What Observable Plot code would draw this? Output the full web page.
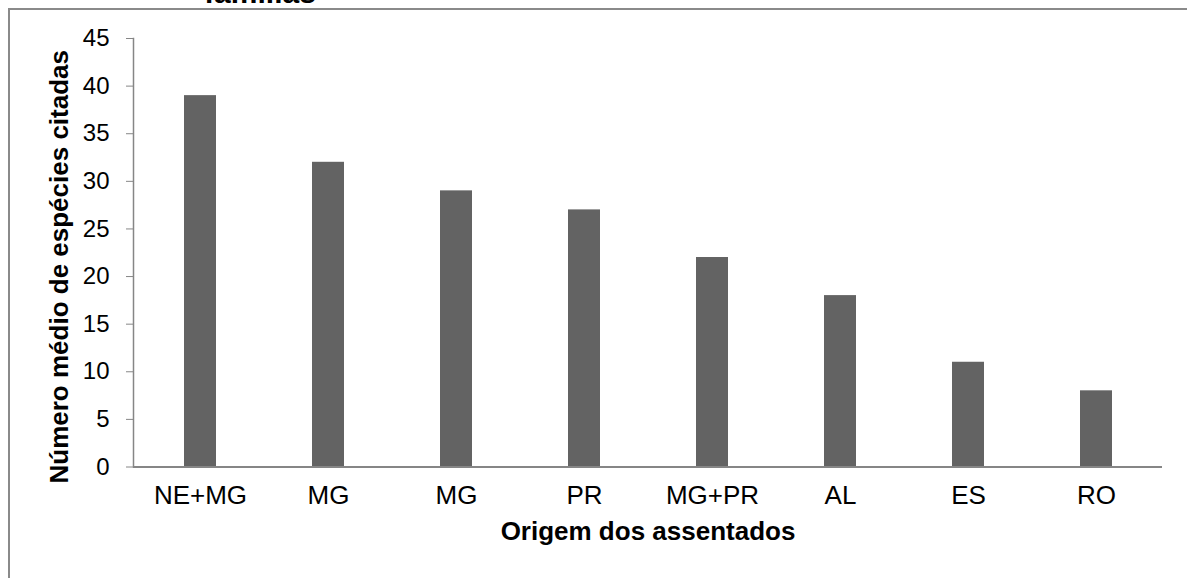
<!DOCTYPE html>
<html>
<head>
<meta charset="utf-8">
<script src="https://cdn.jsdelivr.net/npm/d3@7"></script>
<script src="https://cdn.jsdelivr.net/npm/@observablehq/plot@0.6"></script>
<style>
  html, body { margin: 0; padding: 0; background: #fff; }
  body { width: 1187px; height: 578px; position: relative; overflow: hidden; font-family: "Liberation Sans", Arial, sans-serif; }
  #frame { position: absolute; left: 8px; top: 8px; width: 1400px; height: 800px;
           border-left: 2px solid #8a8a8a; border-top: 2px solid #8a8a8a; box-sizing: border-box; }
  #title { position: absolute; left: 160px; width: 200px; top: -22px; text-align: center;
           font-weight: bold; font-size: 30px; color: #000; line-height: 30px; }
  #chart { position: absolute; left: 0; top: 0; }
</style>
</head>
<body>
<div id="frame"></div>
<div id="title">famílias</div>
<div id="chart"></div>
<script>
// Origin of settlers and mean number of species cited
const origins = ["NE+MG", "MG", "MG ", "PR", "MG+PR", "AL", "ES", "RO"];
const originLabels = ["NE+MG", "MG", "MG", "PR", "MG+PR", "AL", "ES", "RO"];
const meanSpecies = [39, 32, 29, 27, 22, 18, 11, 8];
const yTicks = [0, 5, 10, 15, 20, 25, 30, 35, 40, 45];

const data = origins.map((o, i) => ({origin: o, value: meanSpecies[i]}));
const labelOf = new Map(origins.map((o, i) => [o, originLabels[i]]));

const axisColor = "#868686";

const chart = Plot.plot({
  width: 1187,
  height: 578,
  marginLeft: 133,
  marginRight: 25,
  marginTop: 38,
  marginBottom: 111.5,
  style: {fontFamily: "'Liberation Sans', Arial, sans-serif", background: "transparent", color: "#000"},
  x: {domain: origins, paddingInner: 0.75, paddingOuter: 0.375, align: 0.5, label: null},
  y: {domain: [0, 45], label: null},
  marks: [
    Plot.barY(data, {x: "origin", y: "value", fill: "#636363"}),
    Plot.axisY({ticks: yTicks, tickSize: 7, tickPadding: 17, stroke: axisColor, fontSize: 24, color: "#000", label: null}),
    Plot.frame({anchor: "left", stroke: axisColor, strokeWidth: 1.5}),
    Plot.axisX({tickSize: 0, tickPadding: 19, fontSize: 26, tickFormat: d => labelOf.get(d), label: null}),
    Plot.ruleY([0], {stroke: axisColor, strokeWidth: 2}),
    Plot.text(["Origem dos assentados"], {frameAnchor: "bottom", dy: 73, fontSize: 26, fontWeight: "bold", fill: "#000"}),
    Plot.text(["Número médio de espécies citadas"], {frameAnchor: "left", textAnchor: "middle", dx: -74, dy: 14, rotate: -90, fontSize: 26, fontWeight: "bold", fill: "#000"})
  ]
});
document.getElementById("chart").appendChild(chart);
</script>
</body>
</html>
